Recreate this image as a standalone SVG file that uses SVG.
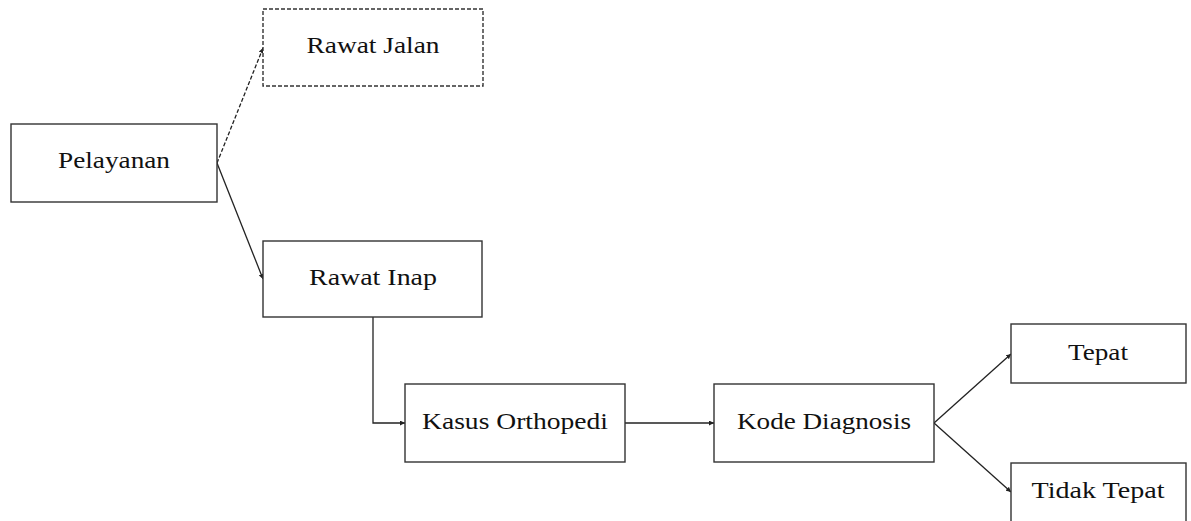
<svg xmlns="http://www.w3.org/2000/svg" width="1191" height="521" viewBox="0 0 1191 521">
<defs>
<style>
.box{fill:#fff;stroke:#333;stroke-width:1.4}
.dash{stroke-dasharray:4,2}
.lbl{font-family:"Liberation Serif","Times New Roman",serif;font-size:23px;fill:#111;text-anchor:middle}
.conn{fill:none;stroke:#222;stroke-width:1.3}
</style>
<marker id="ah" viewBox="0 0 6 6" refX="6" refY="3" markerWidth="5" markerHeight="5" markerUnits="userSpaceOnUse" orient="auto">
<path d="M0,0 L6,3 L0,6 z" fill="#222"/>
</marker>
</defs>
<rect width="1191" height="521" fill="#fff"/>
<g id="connectors">
<line class="conn dash" x1="217" y1="163" x2="263" y2="48" marker-end="url(#ah)"/>
<line class="conn" x1="217" y1="163" x2="263" y2="279" marker-end="url(#ah)"/>
<polyline class="conn" points="373,317 373,423 405,423" marker-end="url(#ah)"/>
<line class="conn" x1="625" y1="423" x2="714" y2="423" marker-end="url(#ah)"/>
<line class="conn" x1="934" y1="423" x2="1011" y2="354" marker-end="url(#ah)"/>
<line class="conn" x1="934" y1="423" x2="1011" y2="492" marker-end="url(#ah)"/>
</g>
<g id="pelayanan">
<rect class="box" x="11" y="124" width="206" height="78"/>
<text class="lbl" x="114" y="168" textLength="112" lengthAdjust="spacingAndGlyphs">Pelayanan</text>
</g>
<g id="rawat-jalan">
<rect class="box dash" x="263" y="9" width="220" height="77"/>
<text class="lbl" x="373" y="53" textLength="133" lengthAdjust="spacingAndGlyphs">Rawat Jalan</text>
</g>
<g id="rawat-inap">
<rect class="box" x="263" y="241" width="219" height="76"/>
<text class="lbl" x="373" y="285" textLength="128" lengthAdjust="spacingAndGlyphs">Rawat Inap</text>
</g>
<g id="kasus-orthopedi">
<rect class="box" x="405" y="384" width="220" height="78"/>
<text class="lbl" x="515" y="429" textLength="186" lengthAdjust="spacingAndGlyphs">Kasus Orthopedi</text>
</g>
<g id="kode-diagnosis">
<rect class="box" x="714" y="384" width="220" height="78"/>
<text class="lbl" x="824" y="429" textLength="174" lengthAdjust="spacingAndGlyphs">Kode Diagnosis</text>
</g>
<g id="tepat">
<rect class="box" x="1011" y="324" width="175" height="59"/>
<text class="lbl" x="1098" y="360" textLength="60" lengthAdjust="spacingAndGlyphs">Tepat</text>
</g>
<g id="tidak-tepat">
<rect class="box" x="1011" y="463" width="175" height="70"/>
<text class="lbl" x="1098" y="498" textLength="133" lengthAdjust="spacingAndGlyphs">Tidak Tepat</text>
</g>
</svg>
